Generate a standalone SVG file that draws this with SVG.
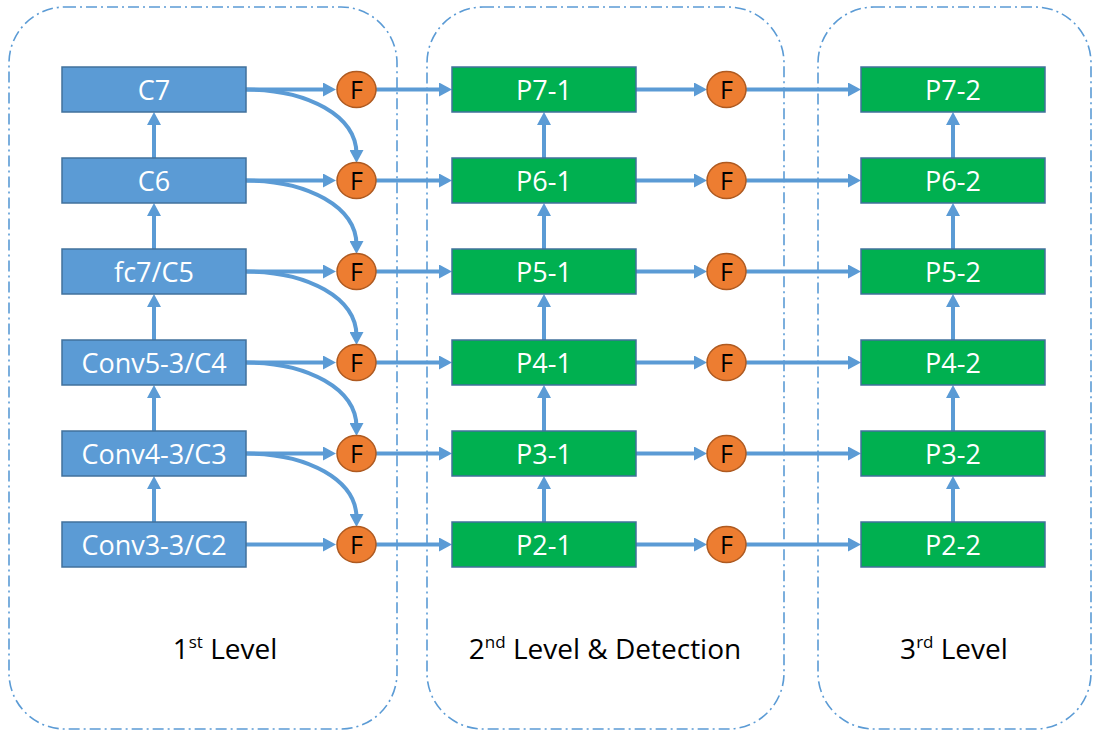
<svg xmlns="http://www.w3.org/2000/svg" width="1094" height="733" viewBox="0 0 1094 733">
<style>
.cont{fill:none;stroke:#5B9BD5;stroke-width:1.6;stroke-dasharray:11 4 2 4}
.bb{fill:#5B9BD5;stroke:#41719C;stroke-width:1.5}
.gb{fill:#00B050;stroke:#41719C;stroke-width:1.5}
.fc{fill:#ED7D31;stroke:#AE5A21;stroke-width:1.5}
.t{font-family:"Open Sans","Liberation Sans",sans-serif;font-size:27px;fill:#fff;text-anchor:middle}
.ft{font-family:"Open Sans","Liberation Sans",sans-serif;font-size:25px;fill:#000;text-anchor:middle}
.lv{font-family:"Open Sans","Liberation Sans",sans-serif;font-size:28px;fill:#000;text-anchor:middle}
.a{fill:none;stroke:#5B9BD5;stroke-width:4;marker-end:url(#ah)}
</style>
<defs>
<marker id="ah" markerUnits="userSpaceOnUse" markerWidth="14" markerHeight="14" refX="4" refY="7" orient="auto">
<path d="M0,0 L13,7 L0,14 z" fill="#5B9BD5"/>
</marker>
</defs>
<g id="containers">
<rect id="level1" class="cont" x="9" y="7" width="388" height="722" rx="56" ry="56"/>
<rect id="level2" class="cont" x="427" y="7" width="357" height="722" rx="56" ry="56"/>
<rect id="level3" class="cont" x="818" y="7" width="273" height="722" rx="56" ry="56"/>
</g>
<g id="connectors">
<path class="a" d="M246,89.5 H327"/><path class="a" d="M246,180.5 H327"/><path class="a" d="M246,271.5 H327"/><path class="a" d="M246,362.5 H327"/><path class="a" d="M246,453.5 H327"/><path class="a" d="M246,544.5 H327"/>
<path class="a" d="M376,89.5 H443"/><path class="a" d="M376,180.5 H443"/><path class="a" d="M376,271.5 H443"/><path class="a" d="M376,362.5 H443"/><path class="a" d="M376,453.5 H443"/><path class="a" d="M376,544.5 H443"/>
<path class="a" d="M636,89.5 H698"/><path class="a" d="M636,180.5 H698"/><path class="a" d="M636,271.5 H698"/><path class="a" d="M636,362.5 H698"/><path class="a" d="M636,453.5 H698"/><path class="a" d="M636,544.5 H698"/>
<path class="a" d="M746,89.5 H852"/><path class="a" d="M746,180.5 H852"/><path class="a" d="M746,271.5 H852"/><path class="a" d="M746,362.5 H852"/><path class="a" d="M746,453.5 H852"/><path class="a" d="M746,544.5 H852"/>
<path class="a" d="M246,89.5 C308,89.5 356.5,116 356.5,154"/>
<path class="a" d="M246,180.5 C308,180.5 356.5,207 356.5,245"/>
<path class="a" d="M246,271.5 C308,271.5 356.5,298 356.5,336"/>
<path class="a" d="M246,362.5 C308,362.5 356.5,389 356.5,427"/>
<path class="a" d="M246,453.5 C308,453.5 356.5,480 356.5,518"/>
<path class="a" d="M154,158 V121"/><path class="a" d="M154,249 V212"/><path class="a" d="M154,340 V303"/><path class="a" d="M154,431 V394"/><path class="a" d="M154,522 V485"/>
<path class="a" d="M544,158 V121"/><path class="a" d="M544,249 V212"/><path class="a" d="M544,340 V303"/><path class="a" d="M544,431 V394"/><path class="a" d="M544,522 V485"/>
<path class="a" d="M953,158 V121"/><path class="a" d="M953,249 V212"/><path class="a" d="M953,340 V303"/><path class="a" d="M953,431 V394"/><path class="a" d="M953,522 V485"/>
</g>
<g id="C7"><rect class="bb" x="62" y="67" width="184" height="45"/><text class="t" x="154" y="99.5">C7</text></g>
<g id="C6"><rect class="bb" x="62" y="158" width="184" height="45"/><text class="t" x="154" y="190.5">C6</text></g>
<g id="C5"><rect class="bb" x="62" y="249" width="184" height="45"/><text class="t" x="154" y="281.5">fc7/C5</text></g>
<g id="C4"><rect class="bb" x="62" y="340" width="184" height="45"/><text class="t" x="154" y="372.5">Conv5-3/C4</text></g>
<g id="C3"><rect class="bb" x="62" y="431" width="184" height="45"/><text class="t" x="154" y="463.5">Conv4-3/C3</text></g>
<g id="C2"><rect class="bb" x="62" y="522" width="184" height="45"/><text class="t" x="154" y="554.5">Conv3-3/C2</text></g>
<g id="F1-7"><ellipse class="fc" cx="356.5" cy="89.5" rx="19.5" ry="18"/><text class="ft" x="356.5" y="98.5">F</text></g>
<g id="F1-6"><ellipse class="fc" cx="356.5" cy="180.5" rx="19.5" ry="18"/><text class="ft" x="356.5" y="189.5">F</text></g>
<g id="F1-5"><ellipse class="fc" cx="356.5" cy="271.5" rx="19.5" ry="18"/><text class="ft" x="356.5" y="280.5">F</text></g>
<g id="F1-4"><ellipse class="fc" cx="356.5" cy="362.5" rx="19.5" ry="18"/><text class="ft" x="356.5" y="371.5">F</text></g>
<g id="F1-3"><ellipse class="fc" cx="356.5" cy="453.5" rx="19.5" ry="18"/><text class="ft" x="356.5" y="462.5">F</text></g>
<g id="F1-2"><ellipse class="fc" cx="356.5" cy="544.5" rx="19.5" ry="18"/><text class="ft" x="356.5" y="553.5">F</text></g>
<g id="P7-1"><rect class="gb" x="452" y="67" width="184" height="45"/><text class="t" x="544" y="99.5">P7-1</text></g>
<g id="P6-1"><rect class="gb" x="452" y="158" width="184" height="45"/><text class="t" x="544" y="190.5">P6-1</text></g>
<g id="P5-1"><rect class="gb" x="452" y="249" width="184" height="45"/><text class="t" x="544" y="281.5">P5-1</text></g>
<g id="P4-1"><rect class="gb" x="452" y="340" width="184" height="45"/><text class="t" x="544" y="372.5">P4-1</text></g>
<g id="P3-1"><rect class="gb" x="452" y="431" width="184" height="45"/><text class="t" x="544" y="463.5">P3-1</text></g>
<g id="P2-1"><rect class="gb" x="452" y="522" width="184" height="45"/><text class="t" x="544" y="554.5">P2-1</text></g>
<g id="F2-7"><ellipse class="fc" cx="726.5" cy="89.5" rx="19.5" ry="18"/><text class="ft" x="726.5" y="98.5">F</text></g>
<g id="F2-6"><ellipse class="fc" cx="726.5" cy="180.5" rx="19.5" ry="18"/><text class="ft" x="726.5" y="189.5">F</text></g>
<g id="F2-5"><ellipse class="fc" cx="726.5" cy="271.5" rx="19.5" ry="18"/><text class="ft" x="726.5" y="280.5">F</text></g>
<g id="F2-4"><ellipse class="fc" cx="726.5" cy="362.5" rx="19.5" ry="18"/><text class="ft" x="726.5" y="371.5">F</text></g>
<g id="F2-3"><ellipse class="fc" cx="726.5" cy="453.5" rx="19.5" ry="18"/><text class="ft" x="726.5" y="462.5">F</text></g>
<g id="F2-2"><ellipse class="fc" cx="726.5" cy="544.5" rx="19.5" ry="18"/><text class="ft" x="726.5" y="553.5">F</text></g>
<g id="P7-2"><rect class="gb" x="861" y="67" width="184" height="45"/><text class="t" x="953" y="99.5">P7-2</text></g>
<g id="P6-2"><rect class="gb" x="861" y="158" width="184" height="45"/><text class="t" x="953" y="190.5">P6-2</text></g>
<g id="P5-2"><rect class="gb" x="861" y="249" width="184" height="45"/><text class="t" x="953" y="281.5">P5-2</text></g>
<g id="P4-2"><rect class="gb" x="861" y="340" width="184" height="45"/><text class="t" x="953" y="372.5">P4-2</text></g>
<g id="P3-2"><rect class="gb" x="861" y="431" width="184" height="45"/><text class="t" x="953" y="463.5">P3-2</text></g>
<g id="P2-2"><rect class="gb" x="861" y="522" width="184" height="45"/><text class="t" x="953" y="554.5">P2-2</text></g>
<g id="labels">
<text class="lv" x="225" y="659">1<tspan font-size="17" dy="-11">st</tspan><tspan dy="11"> Level</tspan></text>
<text class="lv" x="605" y="659">2<tspan font-size="17" dy="-11">nd</tspan><tspan dy="11"> Level &amp; Detection</tspan></text>
<text class="lv" x="954" y="659">3<tspan font-size="17" dy="-11">rd</tspan><tspan dy="11"> Level</tspan></text>
</g>
</svg>
